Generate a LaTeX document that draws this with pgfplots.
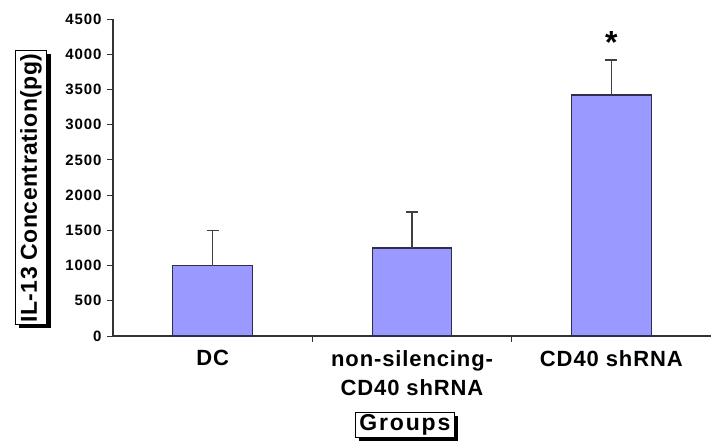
\documentclass[border=0pt]{standalone}
\usepackage{pgfplots}
\pgfplotsset{compat=1.18}
\usepackage{fontspec}
\setmainfont{Liberation Sans}
\usetikzlibrary{shadows}
\definecolor{barfill}{HTML}{9999FF}
\definecolor{baredge}{HTML}{2E2E4A}
\begin{document}
\begin{tikzpicture}
\useasboundingbox (0,0) rectangle (711pt,445pt);
\begin{axis}[
  at={(113pt,109pt)}, anchor=south west,
  scale only axis, width=598pt, height=317pt,
  axis lines*=left,
  axis line style={line width=1.2pt, draw=black!80},
  xmin=-0.5, xmax=2.5, ymin=0, ymax=4500,
  ytick={0,500,...,4500},
  xtick={0.5,1.5}, xticklabels={},
  extra x ticks={0,1,2},
  extra x tick labels={DC,{non-silencing-\\CD40 shRNA},CD40 shRNA},
  extra x tick style={major tick length=0pt, tick label style={font=\fontsize{22}{29}\selectfont\bfseries\addfontfeatures{LetterSpace=4}, align=center, yshift=-11pt, anchor=north}},
  tick align=outside, major tick length=6pt,
  tick style={line width=1pt, black!80},
  yticklabel style={font=\fontsize{15}{17}\selectfont\bfseries\addfontfeatures{LetterSpace=6}, xshift=-2pt},
  /pgf/number format/assume math mode=true,
  /pgf/number format/1000 sep={},
  ylabel={IL-13 Concentration(pg)},
  ylabel style={font=\fontsize{23}{25}\selectfont\bfseries\addfontfeatures{LetterSpace=2}, draw=black, line width=1pt, fill=white, inner xsep=2.5pt, inner ysep=5pt, drop shadow={shadow xshift=4pt, shadow yshift=-3pt, fill=black, opacity=1}, at={(axis description cs:-0.137,0.467)}, anchor=center},
  xlabel={Groups},
  xlabel style={font=\fontsize{23}{25}\selectfont\bfseries\addfontfeatures{LetterSpace=8}, draw=black, line width=1pt, fill=white, inner xsep=4pt, inner ysep=2pt, drop shadow={shadow xshift=4pt, shadow yshift=-3pt, fill=black, opacity=1}, at={(axis description cs:0.488,-0.281)}, anchor=center},
  clip=false,
]
\addplot[ybar, bar width=0.4, fill=barfill, draw=baredge, line width=1.2pt,
  error bars/.cd, y dir=plus, y explicit,
  error bar style={line width=1.3pt, draw=black!75},
  error mark options={rotate=90, mark size=6pt, line width=1.3pt, draw=black!75}]
  coordinates {(0,1000) +- (0,500) (1,1250) +- (0,510) (2,3420) +- (0,500)};
\node[font=\fontsize{32}{32}\selectfont\bfseries] at (axis cs:2,4170) {*};
\end{axis}
\end{tikzpicture}
\end{document}
